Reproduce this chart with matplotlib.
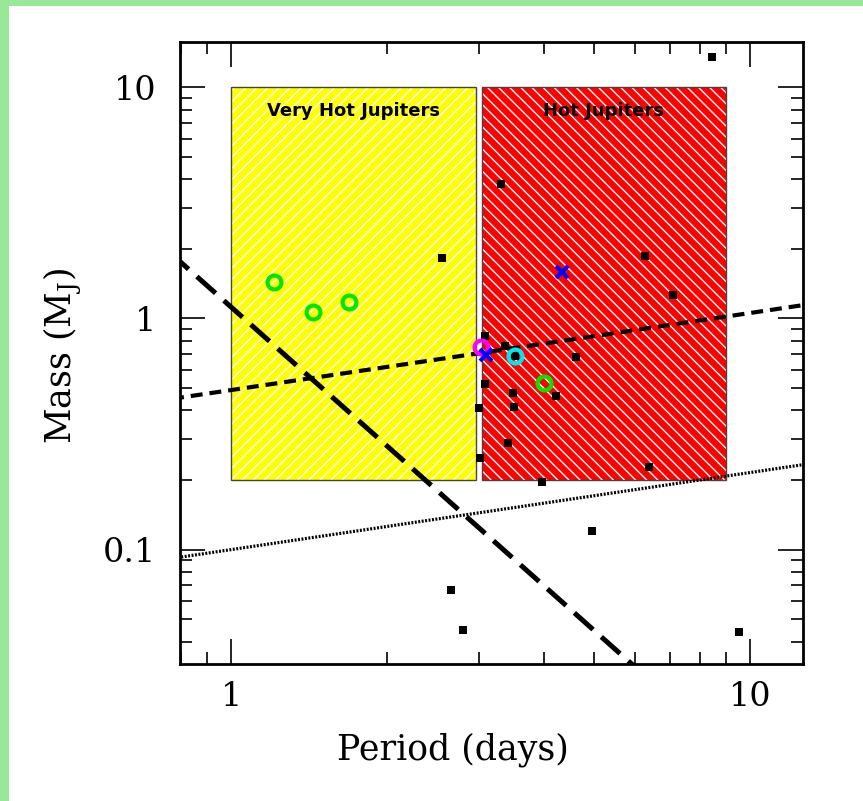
import matplotlib
matplotlib.use("Agg")
import matplotlib.pyplot as plt
from matplotlib.patches import Rectangle
from matplotlib.ticker import FixedLocator, FixedFormatter, LogLocator, NullFormatter
import numpy as np

# ---------------- data ----------------
# black squares: known planets (period in days, mass in M_J)
sq_period = [2.55, 8.44, 3.31, 6.27, 7.09, 3.09, 3.37, 3.53, 4.62, 3.09, 3.49,
             4.23, 3.51, 3.00, 3.41, 3.02, 6.39, 3.97, 4.96, 9.53, 2.65, 2.80]
sq_mass = [1.83, 13.5, 3.83, 1.87, 1.265, 0.838, 0.759, 0.687, 0.682, 0.518, 0.476,
           0.464, 0.414, 0.408, 0.288, 0.248, 0.228, 0.196, 0.120, 0.044, 0.0671, 0.045]

green_period = [1.21, 1.435, 1.69, 4.01]
green_mass = [1.44, 1.065, 1.18, 0.526]

magenta_period = [3.03]
magenta_mass = [0.75]

cyan_period = [3.53]
cyan_mass = [0.687]

cross_period = [3.10, 4.35]
cross_mass = [0.698, 1.59]

# regions: (P_min, P_max, M_min, M_max)
vhj_box = (1.0, 2.96, 0.2, 10.0)
hj_box = (3.04, 8.98, 0.2, 10.0)
region_labels = ["Very Hot Jupiters", "Hot Jupiters"]

# power-law lines M = A * P**k
long_dash_A, long_dash_k = 1.12, -2.0
short_dash_A, short_dash_k = 0.49, 1.0 / 3.0
dotted_A, dotted_k = 0.10, 1.0 / 3.0

x_limits = (0.797, 12.65)
y_limits = (0.032, 15.7)
x_ticks = [1, 10]
x_ticklabels = ["1", "10"]
y_ticks = [0.1, 1, 10]
y_ticklabels = ["0.1", "1", "10"]

# ---------------- plot ----------------
plt.rcParams['font.family'] = ['DejaVu Serif']
plt.rcParams['mathtext.fontset'] = 'dejavuserif'
plt.rcParams['hatch.linewidth'] = 1.0
plt.rcParams['lines.scale_dashes'] = False

W, H = 863, 801
fig = plt.figure(figsize=(W / 100, H / 100), dpi=100)
fig.patch.set_facecolor('white')

# light green page border (left and top)
green_bg = '#98e898'
fig.patches.append(Rectangle((0, 0), 9 / W, 1, transform=fig.transFigure,
                             facecolor=green_bg, edgecolor='none', zorder=0))
fig.patches.append(Rectangle((0, 1 - 6 / H), 1, 6 / H, transform=fig.transFigure,
                             facecolor=green_bg, edgecolor='none', zorder=0))

ax = fig.add_axes([180 / W, 1 - 664 / H, 623 / W, 622 / H])
ax.set_xscale('log')
ax.set_yscale('log')
ax.set_xlim(*x_limits)
ax.set_ylim(*y_limits)


def draw_box(box, color, hatch, label):
    p0, p1, m0, m1 = box
    ax.add_patch(Rectangle((p0, m0), p1 - p0, m1 - m0, facecolor=color,
                           edgecolor='none', zorder=1))
    ax.add_patch(Rectangle((p0, m0), p1 - p0, m1 - m0, facecolor='none',
                           edgecolor='white', hatch=hatch, linewidth=0, zorder=1.1))
    ax.add_patch(Rectangle((p0, m0), p1 - p0, m1 - m0, facecolor='none',
                           edgecolor='#444444', linewidth=1.0, zorder=1.2))
    ax.text(np.sqrt(p0 * p1), m1 * 0.79, label, ha='center', va='center',
            fontsize=13, fontweight='bold', family='DejaVu Sans', zorder=5)


draw_box(vhj_box, '#ffff00', '///', region_labels[0])
draw_box(hj_box, '#ff0000', '\\\\\\', region_labels[1])

P = np.logspace(np.log10(0.6), np.log10(20), 400)
ax.plot(P, long_dash_A * P ** long_dash_k, color='black', lw=3.6,
        dashes=(18, 8), zorder=3, dash_capstyle='butt')
ax.plot(P, short_dash_A * P ** short_dash_k, color='black', lw=3.0,
        dashes=(8.6, 5.0), zorder=3, dash_capstyle='butt')
ax.plot(P, dotted_A * P ** dotted_k, color='black', lw=2.3,
        dashes=(1.4, 1.1), zorder=3, dash_capstyle='butt')

ax.plot(sq_period, sq_mass, linestyle='none', marker='s', ms=5.8,
        mfc='black', mec='black', mew=0, zorder=4)
ax.plot(green_period, green_mass, linestyle='none', marker='o', ms=10,
        mfc='none', mec='#00e600', mew=3.0, zorder=5)
ax.plot(magenta_period, magenta_mass, linestyle='none', marker='o', ms=10,
        mfc='none', mec='#ff00ff', mew=3.0, zorder=5)
ax.plot(cyan_period, cyan_mass, linestyle='none', marker='o', ms=10,
        mfc='none', mec='#00e5ee', mew=3.0, zorder=5)
ax.plot(cross_period, cross_mass, linestyle='none', marker='x', ms=8,
        mec='#0000ff', mew=3.0, zorder=6)

# axes styling
for sp in ax.spines.values():
    sp.set_linewidth(2.0)
    sp.set_zorder(7)

ax.xaxis.set_major_locator(FixedLocator(x_ticks))
ax.xaxis.set_major_formatter(FixedFormatter(x_ticklabels))
ax.yaxis.set_major_locator(FixedLocator(y_ticks))
ax.yaxis.set_major_formatter(FixedFormatter(y_ticklabels))
ax.xaxis.set_minor_locator(LogLocator(base=10, subs=np.arange(2, 10)))
ax.yaxis.set_minor_locator(LogLocator(base=10, subs=np.arange(2, 10)))
ax.xaxis.set_minor_formatter(NullFormatter())
ax.yaxis.set_minor_formatter(NullFormatter())

ax.tick_params(which='both', direction='in', top=True, right=True, color='black')
ax.tick_params(which='major', length=18, width=1.2, labelsize=24)
ax.tick_params(which='minor', length=8.6, width=1.2)
ax.tick_params(axis='x', which='major', pad=12)
ax.tick_params(axis='y', which='major', pad=17)

ax.set_xlabel('Period (days)', fontsize=25)
ax.xaxis.label.set_va('center')
ax.xaxis.set_label_coords(0.438, -0.137)
ax.set_ylabel(r'Mass (M$_\mathrm{J}$)', fontsize=25)
ax.yaxis.label.set_va('center')
ax.yaxis.set_label_coords(-0.189, 0.495)

fig.savefig('out.png', dpi=100, facecolor='white')
